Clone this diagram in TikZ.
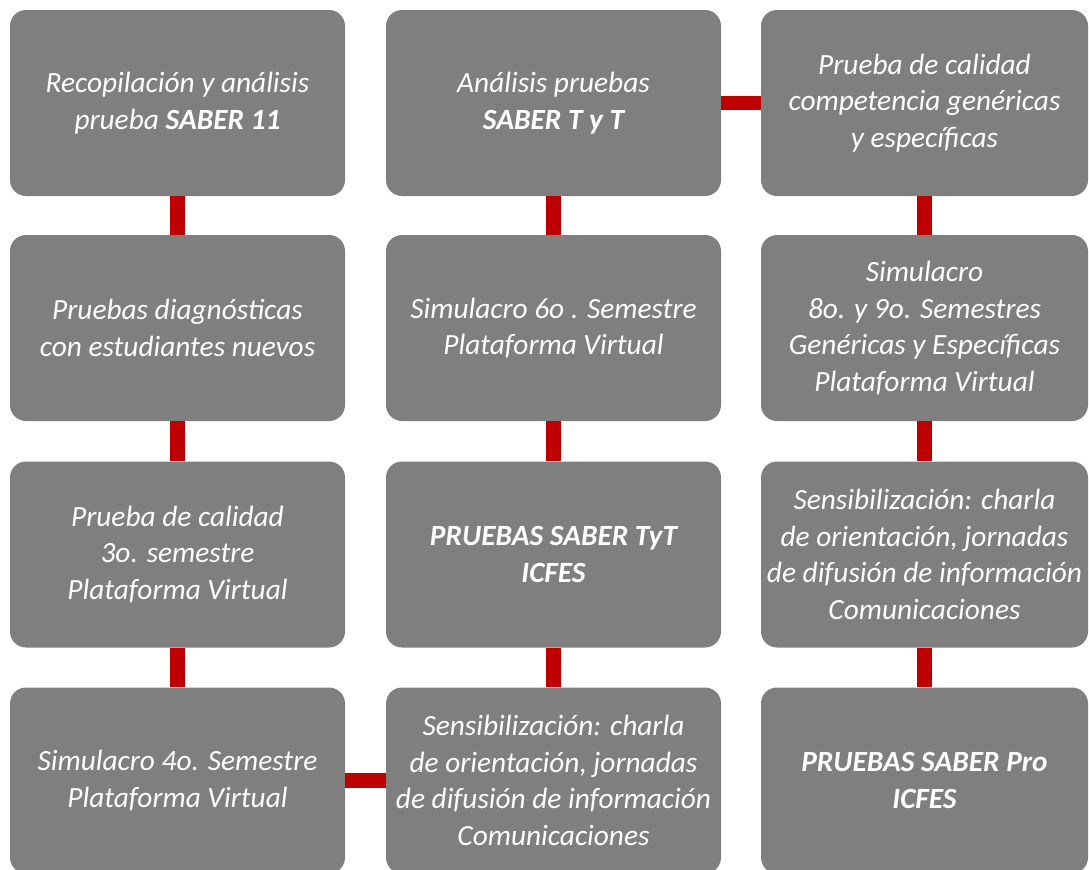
\documentclass[tikz,border=0pt]{standalone}
\usepackage{fontspec}
\setmainfont{Carlito}
\definecolor{grisCaja}{RGB}{127,127,127}
\definecolor{rojoEnlace}{RGB}{190,0,0}
\begin{document}
\begin{tikzpicture}[x=0.75pt,y=-0.75pt,
		caja/.style={fill=grisCaja, rounded corners=12pt, minimum width=251.25pt, minimum height=139.5pt, inner sep=0pt, text=white, align=center, font=\fontsize{22}{27.5}\selectfont\itshape},
		cajaR/.style={caja, minimum width=245.25pt},
		enlace/.style={draw=rojoEnlace, line width=11pt}]
	\useasboundingbox (0,0) rectangle (1089,869);
	% columna izquierda
	\node[caja] (a1) at (177.5,103) {Recopilación y análisis\\prueba \textbf{SABER 11}};
	\node[caja] (a2) at (177.5,328) {Pruebas diagnósticas\\con estudiantes nuevos};
	\node[caja] (a3) at (177.5,554.5) {Prueba de calidad\\3o. semestre\\Plataforma Virtual};
	\node[caja] (a4) at (177.5,780.5) {Simulacro 4o. Semestre\\Plataforma Virtual};
	% columna central
	\node[caja] (b1) at (553.5,103) {Análisis pruebas\\\textbf{SABER T y T}};
	\node[caja] (b2) at (553.5,328) {Simulacro 6o . Semestre\\Plataforma Virtual};
	\node[caja] (b3) at (553.5,554.5) {\textbf{PRUEBAS SABER TyT}\\\textbf{ICFES}};
	\node[caja] (b4) at (553.5,780.5) {Sensibilización: charla\\de orientación, jornadas\\de difusión de información\\Comunicaciones};
	% columna derecha
	\node[cajaR] (c1) at (924.5,103) {Prueba de calidad\\competencia genéricas\\y específicas};
	\node[cajaR] (c2) at (924.5,328) {Simulacro\\8o. y 9o. Semestres\\Genéricas y Específicas\\Plataforma Virtual};
	\node[cajaR] (c3) at (924.5,554.5) {Sensibilización: charla\\de orientación, jornadas\\de difusión de información\\Comunicaciones};
	\node[cajaR] (c4) at (924.5,780.5) {\textbf{PRUEBAS SABER Pro}\\\textbf{ICFES}};
	% enlaces
	\draw[enlace] (a1)--(a2);
	\draw[enlace] (a2)--(a3);
	\draw[enlace] (a3)--(a4);
	\draw[enlace] (a4)--(b4);
	\draw[enlace] (b4)--(b3);
	\draw[enlace] (b3)--(b2);
	\draw[enlace] (b2)--(b1);
	\draw[enlace] (b1)--(c1);
	\draw[enlace] (c1)--(c2);
	\draw[enlace] (c2)--(c3);
	\draw[enlace] (c3)--(c4);
\end{tikzpicture}
\end{document}
